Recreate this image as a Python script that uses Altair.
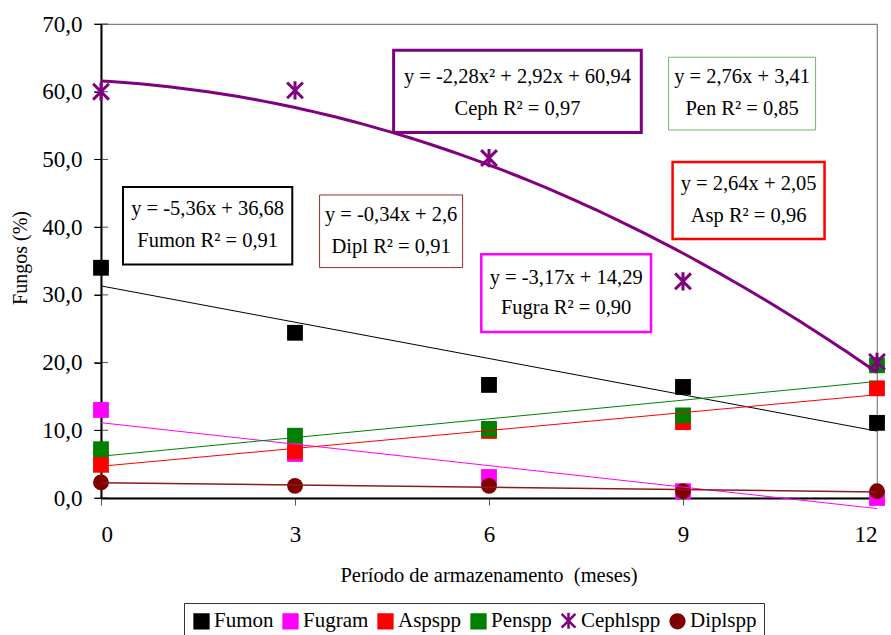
import altair as alt
import pandas as pd

# Storage period (months) and fungal incidence (%) per genus
months = [0, 3, 6, 9, 12]
series = ["Fumon", "Fugram", "Aspspp", "Penspp", "Cephlspp", "Diplspp"]
fumon = [34.0, 24.4, 16.7, 16.4, 11.1]
fugram = [13.0, 6.5, 3.1, 1.0, 0.0]
aspspp = [4.9, 6.9, 9.9, 11.2, 16.2]
penspp = [7.2, 9.2, 10.2, 12.2, 19.6]
cephlspp = [60.0, 60.2, 50.2, 32.0, 20.1]
diplspp = [2.3, 1.8, 1.8, 1.0, 1.0]
values = [fumon, fugram, aspspp, penspp, cephlspp, diplspp]

colors = ["#000000", "#FF00FF", "#FF0000", "#008000", "#800080", "#800000"]
asterisk = "M-1,-1L1,1M-1,1L1,-1M0,-1.15L0,1.15"
shapes = ["square", "square", "square", "square", asterisk, "circle"]

# Fitted trends: y = a*k^2 + b*k + c, where k is the sampling index (1..5)
fit_a = [0, 0, 0, 0, -2.28, 0]
fit_b = [-5.36, -3.17, 2.64, 2.76, 2.92, -0.34]
fit_c = [36.68, 14.29, 2.05, 3.41, 60.94, 2.6]
fit_color = ["#000000", "#FF00FF", "#FF0000", "#008000", "#800080", "#8B1A1A"]
fit_width = [1, 1, 1, 1, 3, 1.5]

# Equation boxes
eq_text = ["y = -5,36x + 36,68", "y = -3,17x + 14,29", "y = 2,64x + 2,05",
           "y = 2,76x + 3,41", "y = -2,28x² + 2,92x + 60,94", "y = -0,34x + 2,6"]
r2_text = ["Fumon R² = 0,91", "Fugra R² = 0,90", "Asp R² = 0,96",
           "Pen R² = 0,85", "Ceph R² = 0,97", "Dipl R² = 0,91"]
box_color = ["#000000", "#FF00FF", "#FF0000", "#6DB86D", "#800080", "#9B2B2B"]
box_width = [2, 2.5, 2.5, 1, 3, 1]
# box placement in axis units: left, right, top, bottom, text rows
box_x = [(0.34, 2.958), (5.881, 8.505), (8.839, 11.189), (8.777, 11.05), (4.525, 8.355), (3.38, 5.592)]
box_y = [(45.93, 34.47), (35.99, 24.52), (49.62, 38.25), (65.09, 54.35), (66.12, 53.97), (44.75, 34.03)]
row_y = [(42.64, 37.96), (32.55, 28.02), (46.33, 41.65), (62.18, 57.51), (62.18, 57.51), (41.75, 37.07)]

FONT = "Liberation Serif"

pts = pd.DataFrame(
    [{"month": m, "value": v, "serie": s}
     for s, vals in zip(series, values) for m, v in zip(months, vals)]
)

fit_rows = []
for i, s in enumerate(series):
    steps = 81 if fit_a[i] else 2
    for j in range(steps):
        m = 12 * j / (steps - 1)
        k = m / 3 + 1
        fit_rows.append({"month": m, "value": fit_a[i] * k * k + fit_b[i] * k + fit_c[i],
                         "fit": s, "col": fit_color[i], "w": fit_width[i]})
fits = pd.DataFrame(fit_rows)

boxes = pd.DataFrame({
    "month": [b[0] for b in box_x], "month2": [b[1] for b in box_x],
    "value": [b[0] for b in box_y], "value2": [b[1] for b in box_y],
    "col": box_color, "w": box_width,
})
texts = pd.DataFrame(
    [{"month": (box_x[i][0] + box_x[i][1]) / 2, "value": row_y[i][0], "t": eq_text[i]} for i in range(6)]
    + [{"month": (box_x[i][0] + box_x[i][1]) / 2, "value": row_y[i][1], "t": r2_text[i]} for i in range(6)]
)
ticks = pd.DataFrame({"month": [0] * 8, "value": list(range(0, 80, 10))})

xscale = alt.Scale(domain=[0, 12], nice=False, zero=False)
yscale = alt.Scale(domain=[0, 70], nice=False)
xaxis = alt.Axis(values=months, title="Período de armazenamento\u00a0 (meses)", grid=False,
                 labelFont=FONT, labelFontSize=23, labelColor="black", labelPadding=18,
                 tickSize=7, tickColor="#555555", domainColor="black", domainWidth=2,
                 titleFont=FONT, titleFontSize=20.5, titleFontWeight="normal", titleColor="black",
                 titleX=387.5, titleY=77, titleBaseline="middle")
yaxis = alt.Axis(values=list(range(0, 80, 10)), title="Fungos (%)", grid=False,
                 labelExpr="replace(format(datum.value, '.1f'), '.', ',')",
                 labelFont=FONT, labelFontSize=23, labelColor="black", labelPadding=12,
                 tickSize=7, tickColor="black", domainColor="black", domainWidth=2,
                 titleFont=FONT, titleFontSize=20, titleFontWeight="normal", titleColor="black",
                 titleX=-81, titleY=233.5, titleBaseline="middle", titleAngle=-90)

X = alt.X("month:Q", scale=xscale, axis=xaxis)
Y = alt.Y("value:Q", scale=yscale, axis=yaxis)

box_layer = alt.Chart(boxes).mark_rect(filled=False).encode(
    x=X, x2="month2:Q", y=Y, y2="value2:Q",
    color=alt.Color("col:N", scale=None, legend=None),
    strokeWidth=alt.StrokeWidth("w:Q", scale=None, legend=None),
)
text_layer = alt.Chart(texts).mark_text(font=FONT, fontSize=20.5, color="black",
                                        baseline="middle", align="center").encode(
    x=X, y=Y, text="t:N")

tick_layer = alt.Chart(ticks).mark_tick(orient="horizontal", size=14, thickness=1,
                                        color="black").encode(x=X, y=Y)

legend = alt.Legend(orient="none", legendX=83, legendY=579, direction="horizontal", columns=6,
                    title=None, labelFont=FONT, labelFontSize=21, labelColor="black",
                    symbolSize=190, symbolStrokeWidth=2.5, labelOffset=2, columnPadding=4,
                    padding=7, strokeColor="#333333", symbolOpacity=1)

point_layer = alt.Chart(pts).mark_point(opacity=1).encode(
    x=X, y=Y,
    fill=alt.Fill("serie:N", scale=alt.Scale(domain=series, range=colors), legend=legend),
    stroke=alt.Stroke("serie:N", scale=alt.Scale(domain=series, range=colors), legend=legend),
    shape=alt.Shape("serie:N", scale=alt.Scale(domain=series, range=shapes), legend=legend),
    strokeWidth=alt.condition(alt.datum.serie == "Cephlspp", alt.value(3), alt.value(0)),
    size=alt.value(250),
)

fit_layer = alt.Chart(fits).mark_line().encode(
    x=X, y=Y, detail="fit:N",
    color=alt.Color("col:N", scale=None, legend=None),
    strokeWidth=alt.StrokeWidth("w:Q", scale=None, legend=None),
)

chart = alt.layer(box_layer, text_layer, tick_layer, point_layer, fit_layer).properties(
    width=776, height=474,
    autosize=alt.AutoSizeParams(type="none"),
    padding={"left": 101, "top": 24, "right": 14, "bottom": 137},
    background="white",
).configure_view(stroke="#7f7f7f", strokeWidth=1.2)

chart.save("out.html", embed_options={"renderer": "svg", "actions": False})
